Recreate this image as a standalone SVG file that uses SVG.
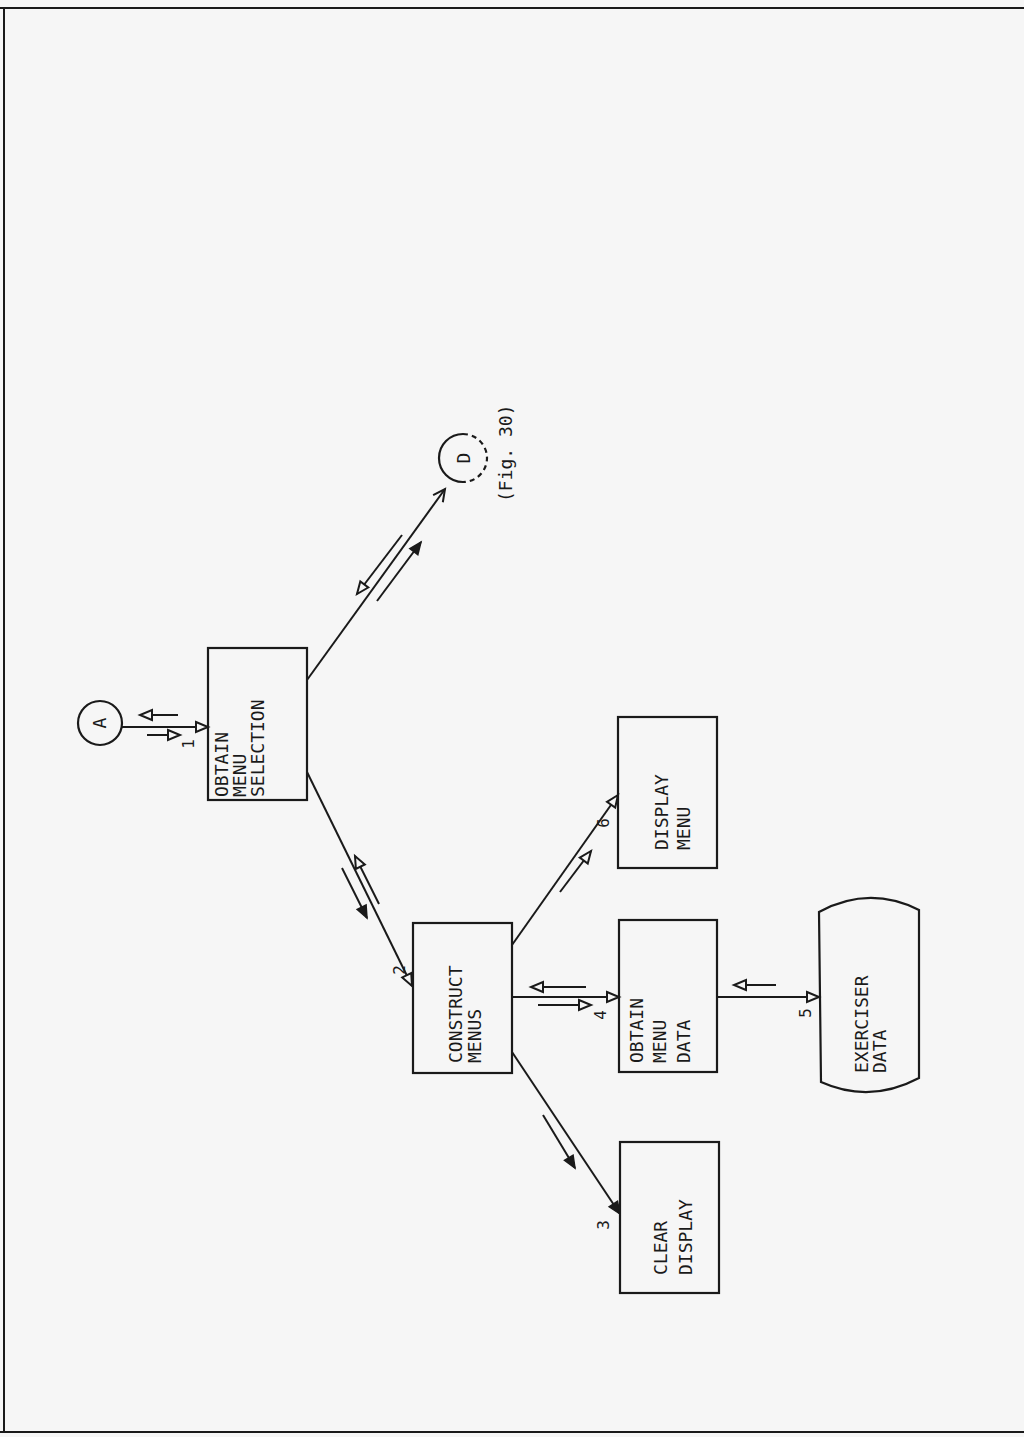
<svg xmlns="http://www.w3.org/2000/svg" width="1024" height="1437" viewBox="0 0 1024 1437">
<defs>
<marker id="open" markerUnits="userSpaceOnUse" markerWidth="16" markerHeight="14" refX="12" refY="5" orient="auto" overflow="visible">
<path d="M0,0 L12,5 L0,10 Z" fill="#f6f6f6" stroke="#1a1a1a" stroke-width="2"/>
</marker>
<marker id="filled" markerUnits="userSpaceOnUse" markerWidth="16" markerHeight="14" refX="12" refY="5" orient="auto" overflow="visible">
<path d="M0,0 L12,5 L0,10 Z" fill="#1a1a1a" stroke="#1a1a1a" stroke-width="1.5"/>
</marker>
<marker id="chev" markerUnits="userSpaceOnUse" markerWidth="16" markerHeight="14" refX="12" refY="6" orient="auto" overflow="visible">
<path d="M0,0 L12,6 L0,12" fill="none" stroke="#1a1a1a" stroke-width="2"/>
</marker>
</defs>
<style>
.box{fill:none;stroke:#1a1a1a;stroke-width:2.2}
.ln{fill:none;stroke:#1a1a1a;stroke-width:2}
.t{font-family:"DejaVu Sans Mono","Liberation Mono",monospace;font-size:18px;fill:#1a1a1a}
.n{font-family:"DejaVu Sans Mono","Liberation Mono",monospace;font-size:16px;fill:#1a1a1a}
</style>
<rect x="0" y="0" width="1024" height="1437" fill="#f6f6f6"/>
<g id="border">
<path class="ln" d="M0,8 L1024,8 M4,8 L4,1432 M0,1432 L1024,1432" stroke-width="2.5"/>
</g>
<g id="connectors">
<!-- A - OMS -->
<line class="ln" x1="122" y1="727" x2="208" y2="727" marker-end="url(#open)"/>
<line class="ln" x1="178" y1="715" x2="140" y2="715" marker-end="url(#open)"/>
<line class="ln" x1="147" y1="735" x2="180" y2="735" marker-end="url(#open)"/>
<!-- OMS - D -->
<line class="ln" x1="307" y1="680" x2="445" y2="489" marker-end="url(#chev)"/>
<line class="ln" x1="402" y1="535" x2="357" y2="594" marker-end="url(#open)"/>
<line class="ln" x1="377" y1="601" x2="421" y2="542" marker-end="url(#filled)"/>
<!-- OMS - CM -->
<line class="ln" x1="307" y1="772" x2="412" y2="986" marker-end="url(#open)"/>
<line class="ln" x1="379" y1="904" x2="355" y2="856" marker-end="url(#open)"/>
<line class="ln" x1="342" y1="868" x2="367" y2="918" marker-end="url(#filled)"/>
<!-- CM - DM -->
<line class="ln" x1="512" y1="945" x2="618" y2="795" marker-end="url(#open)"/>
<line class="ln" x1="560" y1="892" x2="591" y2="851" marker-end="url(#open)"/>
<!-- CM - OMD -->
<line class="ln" x1="512" y1="997" x2="619" y2="997" marker-end="url(#open)"/>
<line class="ln" x1="586" y1="987" x2="531" y2="987" marker-end="url(#open)"/>
<line class="ln" x1="538" y1="1005" x2="591" y2="1005" marker-end="url(#open)"/>
<!-- CM - CD -->
<line class="ln" x1="512" y1="1052" x2="620" y2="1214" marker-end="url(#filled)"/>
<line class="ln" x1="543" y1="1115" x2="575" y2="1168" marker-end="url(#filled)"/>
<!-- OMD - ED -->
<line class="ln" x1="717" y1="997" x2="819" y2="997" marker-end="url(#open)"/>
<line class="ln" x1="776" y1="985" x2="734" y2="985" marker-end="url(#open)"/>
</g>
<g id="A">
<circle class="box" cx="100" cy="723" r="22"/>
<text class="t" text-anchor="middle" transform="translate(106,723) rotate(-90)">A</text>
</g>
<g id="D">
<path class="box" d="M463,434 A24,24 0 0 0 463,482"/>
<path class="box" d="M463,434 A24,24 0 0 1 463,482" stroke-dasharray="5,4"/>
<text class="t" text-anchor="middle" transform="translate(470,458) rotate(-90)">D</text>
<text class="t" font-size="17" transform="translate(512,502) rotate(-90)">(Fig. 30)</text>
</g>
<g id="obtain-menu-selection">
<rect class="box" x="208" y="648" width="99" height="152"/>
<text class="t" transform="translate(228,797) rotate(-90)">OBTAIN</text>
<text class="t" transform="translate(246,797) rotate(-90)">MENU</text>
<text class="t" transform="translate(264,797) rotate(-90)">SELECTION</text>
<text class="n" text-anchor="middle" transform="translate(194,744) rotate(-90)">1</text>
</g>
<g id="construct-menus">
<rect class="box" x="413" y="923" width="99" height="150"/>
<text class="t" transform="translate(462,1063) rotate(-90)">CONSTRUCT</text>
<text class="t" transform="translate(481,1063) rotate(-90)">MENUS</text>
<text class="n" text-anchor="middle" transform="translate(405,970) rotate(-90)">2</text>
</g>
<g id="display-menu">
<rect class="box" x="618" y="717" width="99" height="151"/>
<text class="t" transform="translate(668,850) rotate(-90)">DISPLAY</text>
<text class="t" transform="translate(690,850) rotate(-90)">MENU</text>
<text class="n" text-anchor="middle" transform="translate(609,823) rotate(-90)">6</text>
</g>
<g id="obtain-menu-data">
<rect class="box" x="619" y="920" width="98" height="152"/>
<text class="t" transform="translate(643,1063) rotate(-90)">OBTAIN</text>
<text class="t" transform="translate(666,1063) rotate(-90)">MENU</text>
<text class="t" transform="translate(690,1063) rotate(-90)">DATA</text>
<text class="n" text-anchor="middle" transform="translate(606,1015) rotate(-90)">4</text>
</g>
<g id="clear-display">
<rect class="box" x="620" y="1142" width="99" height="151"/>
<text class="t" transform="translate(667,1275) rotate(-90)">CLEAR</text>
<text class="t" transform="translate(692,1275) rotate(-90)">DISPLAY</text>
<text class="n" text-anchor="middle" transform="translate(609,1225) rotate(-90)">3</text>
</g>
<g id="exerciser-data">
<path class="box" d="M819,912 Q869,885 919,910 L919,1078 Q870,1104 821,1082 Z"/>
<text class="t" transform="translate(868,1073) rotate(-90)">EXERCISER</text>
<text class="t" transform="translate(886,1073) rotate(-90)">DATA</text>
<text class="n" text-anchor="middle" transform="translate(811,1013) rotate(-90)">5</text>
</g>
</svg>
